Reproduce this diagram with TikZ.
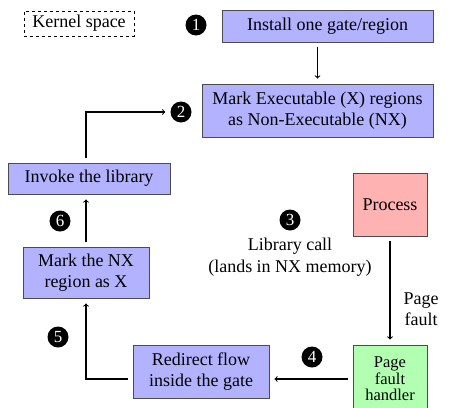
\documentclass[tikz,border=0pt]{standalone}
\usepackage{fontspec}
\setmainfont{Liberation Serif}
\begin{document}
\begin{tikzpicture}[x=1pt,y=-1pt,
  every node/.style={font=\fontsize{18}{21.5}\selectfont},
  box/.style={draw=black!70, line width=0.9pt, align=center, inner sep=0pt},
  bluebox/.style={box, fill=blue!30},
  num/.style={circle, fill=black, text=white, inner sep=0pt, minimum size=21pt, font=\fontsize{17}{17}\selectfont},
  conn/.style={line width=1.1pt, shorten <=5pt, shorten >=5pt},
  arr/.style={conn, ->},
  lbl/.style={align=center, inner sep=0pt}
]
\useasboundingbox (0,0) rectangle (449,407);
\clip (0,0) rectangle (449,407);
\node[draw, dashed, line width=0.8pt, minimum width=110pt, minimum height=25pt, inner sep=0pt] (kernel) at (79,23.5) {Kernel space};
\node[bluebox, minimum width=211pt, minimum height=32pt] (install) at (327.5,26) {Install one gate/region};
\node[bluebox, minimum width=231pt, minimum height=53pt] (markexec) at (317.5,110.5) {Mark Executable (X) regions\\as Non-Executable (NX)};
\node[bluebox, minimum width=162pt, minimum height=31pt] (invoke) at (89,178.5) {Invoke the library};
\node[box, fill=red!30, minimum width=74pt, minimum height=63pt] (process) at (390,204.5) {Process};
\node[bluebox, minimum width=126pt, minimum height=51pt] (marknx) at (86,272.5) {Mark the NX\\region as X};
\node[bluebox, minimum width=136pt, minimum height=53pt] (redirect) at (201,371.5) {Redirect flow\\inside the gate};
\node[box, fill=green!30, minimum width=74pt, minimum height=68pt, font=\fontsize{16.5}{16.5}\selectfont] (pfh) at (390,379) {Page\\fault\\handler};

\node[num] (n1) at (196,25) {1};
\node[num] (n2) at (181,112) {2};
\node[num] (n3) at (290,220) {3};
\node[num] (n4) at (312,357) {4};
\node[num] (n5) at (58,337) {5};
\node[num] (n6) at (60,221) {6};

\node[lbl] (libcall) at (290,257) {Library call\\(lands in NX memory)};
\node[lbl] (pflabel) at (421,309) {Page\\fault};

\draw[arr] (install.south -| markexec.north) -- (markexec.north);
\draw[arr] (invoke.north -| marknx.north) |- (n2.west);
\draw[arr] (marknx.north) -- (invoke.south -| marknx.north);
\draw[arr] (process.south) -- (pfh.north);
\draw[arr] (pfh.west) -- (pfh.west -| redirect.east);
\draw[arr] (redirect.west |- pfh.west) -| (marknx.south);
\end{tikzpicture}
\end{document}
